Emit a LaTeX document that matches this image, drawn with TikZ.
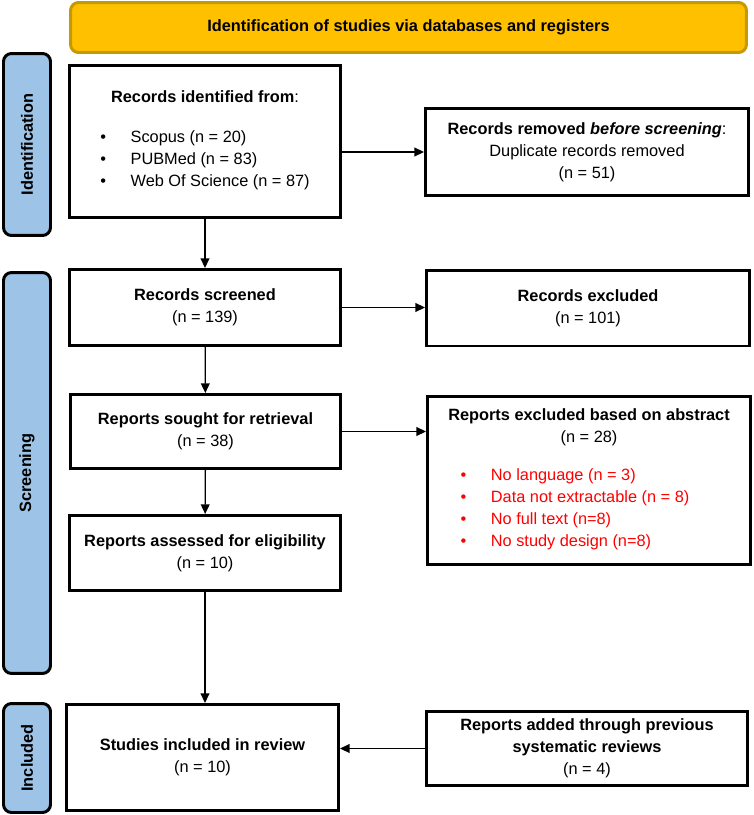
\documentclass[tikz,border=0pt]{standalone}
\usepackage{fontspec}
\setmainfont{Liberation Sans}
\usepackage{xcolor}
\usetikzlibrary{arrows.meta}
\usetikzlibrary{shapes}

\definecolor{bannerfill}{HTML}{FFC000}
\definecolor{bannerline}{HTML}{C49A00}
\definecolor{phasefill}{HTML}{9DC3E6}

\begin{document}
\begin{tikzpicture}[x=0.02cm, y=-0.02cm,
    every node/.style={font=\fontsize{9.3}{12.5}\selectfont},
    box/.style={draw, line width=1.7pt, fill=white, align=center, inner sep=2pt},
    phase/.style={draw, line width=1.7pt, fill=phasefill, rounded corners=0.16cm, rotate=90,
                  minimum height=0.94cm, font=\fontsize{9.3}{12.5}\selectfont\bfseries},
    flow/.style={-{Triangle[length=5.5pt,width=5pt]}, line width=0.75pt}]

    \useasboundingbox (0,0) rectangle (754,815);

    %===========================
    % Header and phases
    %===========================

    \node (banner) at (408.5,27.5) [draw=bannerline, fill=bannerfill, line width=1.7pt,
        rounded corners=0.16cm, minimum width=13.52cm, minimum height=1.0cm,
        font=\fontsize{9.3}{12.5}\selectfont\bfseries] {Identification of studies via databases and registers};

    \node (phaseIdent) at (27,144.5) [phase, minimum width=3.64cm] {Identification};
    \node (phaseScreen) at (27,473) [phase, minimum width=8.02cm] {Screening};
    \node (phaseIncl) at (27,758) [phase, minimum width=2.18cm] {Included};


    %===========================
    % Left column
    %===========================

    \node (ident) at (205,141.5) [box, minimum width=5.42cm, minimum height=3.04cm]
        {\textbf{Records identified from}:\\[13pt]
         \begin{tabular}{@{}l@{\hspace{14pt}}l@{}}
         \textbullet & Scopus (n = 20)\\
         \textbullet & PUBMed (n = 83)\\
         \textbullet & Web Of Science (n = 87)
         \end{tabular}};

    \node (screened) at (205,307.5) [box, minimum width=5.42cm, minimum height=1.52cm]
        {\textbf{Records screened}\\(n = 139)};

    \node (sought) at (205.5,431.5) [box, minimum width=5.42cm, minimum height=1.48cm]
        {\textbf{Reports sought for retrieval}\\(n = 38)};

    \node (assessed) at (205,553) [box, minimum width=5.42cm, minimum height=1.5cm]
        {\textbf{Reports assessed for eligibility}\\(n = 10)};

    \node (included) at (202.5,757.5) [box, minimum width=5.44cm, minimum height=2.12cm]
        {\textbf{Studies included in review}\\(n = 10)};


    %===========================
    % Right column
    %===========================

    \node (removed) at (587,152) [box, minimum width=6.46cm, minimum height=1.74cm]
        {\textbf{Records removed \textit{before screening}}:\\Duplicate records removed\\(n = 51)};

    \node (excluded) at (588,308) [box, minimum width=6.46cm, minimum height=1.52cm]
        {\textbf{Records excluded}\\(n = 101)};

    \node (reportsExcl) at (589,480.5) [box, minimum width=6.46cm, minimum height=3.36cm]
        {\textbf{Reports excluded based on abstract}\\(n = 28)\\[10pt]
         \textcolor{red}{\begin{tabular}{@{}l@{\hspace{14pt}}l@{}}
         \textbullet & No language (n = 3)\\
         \textbullet & Data not extractable (n = 8)\\
         \textbullet & No full text (n=8)\\
         \textbullet & No study design (n=8)
         \end{tabular}}\hspace*{16pt}};

    \node (added) at (587,748.5) [box, minimum width=6.42cm, minimum height=1.48cm]
        {\textbf{Reports added through previous}\\\textbf{systematic reviews}\\(n = 4)};


    %===========================
    % Arrows
    %===========================

    \draw[flow] (ident) -- (screened);
    \draw[flow] (ident.east |- removed) -- (removed);
    \draw[flow] (screened.east) -- (screened.east -| excluded.west);
    \draw[flow] (screened) -- (sought);
    \draw[flow] (sought.east) -- (sought.east -| reportsExcl.west);
    \draw[flow] (sought) -- (assessed);
    \draw[flow] (assessed.south) -- (assessed.south |- included.north);
    \draw[flow] (added.west) -- (added.west -| included.east);
\end{tikzpicture}
\end{document}
